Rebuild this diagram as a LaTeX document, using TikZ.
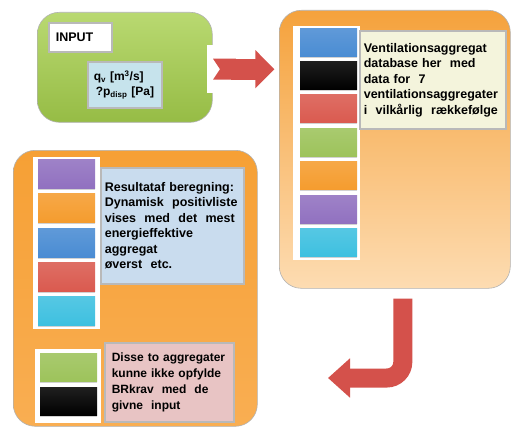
\documentclass[tikz,border=0pt]{standalone}
\usepackage{fontspec}
\setmainfont{Liberation Sans}
\usetikzlibrary{positioning,arrows.meta,shadows}

\definecolor{inputtop}{HTML}{B9D971}
\definecolor{inputbot}{HTML}{96BC45}
\definecolor{dbtop}{HTML}{F5A23C}
\definecolor{dbbot}{HTML}{FDDCB2}
\definecolor{restop}{HTML}{F6A035}
\definecolor{resbot}{HTML}{F9AE52}
\definecolor{flowblue}{HTML}{C6E3EC}
\definecolor{dbnote}{HTML}{F4F4DC}
\definecolor{resnote}{HTML}{C9DCEE}
\definecolor{rejnote}{HTML}{E8C4C4}
\definecolor{arrowred}{HTML}{D4514B}
\definecolor{aggblue}{HTML}{4A8CD3}
\definecolor{aggblack}{HTML}{000000}
\definecolor{aggred}{HTML}{DA5A4F}
\definecolor{agggreen}{HTML}{9DC35B}
\definecolor{aggorange}{HTML}{F59C2E}
\definecolor{aggpurple}{HTML}{9171C0}
\definecolor{aggcyan}{HTML}{3EC0E0}

\begin{document}
\begin{tikzpicture}[
        x=1pt, y=-1pt,
        node distance=5pt,
        every node/.style={font=\fontsize{12.5}{15.5}\selectfont\bfseries, inner sep=0pt},
        panel/.style={rounded corners=22pt, anchor=north west, draw=gray!60, line width=0.6pt},
        strip/.style={fill=white, anchor=north west},
        agg/.style={minimum width=57pt, minimum height=28pt, top color=#1!88!white, bottom color=#1,
            drop shadow={shadow xshift=0pt, shadow yshift=-1.5pt, opacity=0.35}},
        note/.style={draw=gray!55, line width=1.6pt, align=left, anchor=north west, inner xsep=4pt},
        bigarrow/.style={draw=arrowred, line width=21pt}
    ]

    % background
    \fill[white] (0,0) rectangle (512,428);
    \useasboundingbox (0,0) rectangle (512,428);

    % Panels
    \node[panel, minimum width=175pt, minimum height=110pt, top color=inputtop, bottom color=inputbot] (input) at (37,12) {};
    \node[panel, minimum width=231pt, minimum height=278pt, top color=dbtop, bottom color=dbbot] (database) at (279,10) {};
    \node[panel, minimum width=244pt, minimum height=276pt, top color=restop, bottom color=resbot] (result) at (13,150) {};

    % Input
    \node[note, fill=white, minimum height=29pt, text width=49pt, inner xsep=7pt] (inlabel) at (48,22) {INPUT};
    \node[note, fill=flowblue, minimum height=46pt, text width=62pt, inner xsep=6pt,
        font=\fontsize{12}{15}\selectfont\bfseries] (flow) at (87,61)
        {q\textsubscript{v} [m\textsuperscript{3}/s]\\ \,?p\textsubscript{disp} [Pa]};

    % Database
    \node[strip, minimum width=67pt, minimum height=234pt] (dbstrip) at (293,26) {};
    \node[agg=aggblue, anchor=north west] (db1) at (300,28) {};
    \node[agg=aggblack, below=of db1] (db2) {};
    \node[agg=aggred, below=of db2] (db3) {};
    \node[agg=agggreen, below=of db3] (db4) {};
    \node[agg=aggorange, below=of db4] (db5) {};
    \node[agg=aggpurple, below=of db5] (db6) {};
    \node[agg=aggcyan, below=of db6] (db7) {};
    \node[note, fill=dbnote, minimum height=98pt, text width=138pt] (dbtext) at (359,30)
        {Ventilationsaggregat\\ database her\ \ med\\ data for\ \ 7\\ ventilationsaggregater\\ i\ \ vilkårlig\ \ rækkefølge};

    % Result
    \node[strip, minimum width=67pt, minimum height=172pt] (resstrip) at (33,157) {};
    \node[agg=aggpurple, minimum height=29pt, anchor=north west] (res1) at (38,159) {};
    \node[agg=aggorange, minimum height=29pt, below=of res1] (res2) {};
    \node[agg=aggblue, minimum height=29pt, below=of res2] (res3) {};
    \node[agg=aggred, minimum height=29pt, below=of res3] (res4) {};
    \node[agg=aggcyan, minimum height=29pt, below=of res4] (res5) {};
    \node[note, fill=resnote, minimum height=116pt, text width=135pt] (restext) at (100,167)
        {Resultataf beregning:\\ Dynamisk\ \ positivliste\\ vises\ \ med\ \ det\ \ mest\\ energieffektive\\ aggregat\\ øverst\ \ etc.};

    % Rejected
    \node[strip, minimum width=66pt, minimum height=74pt] (rejstrip) at (35,349) {};
    \node[agg=agggreen, anchor=north west] (rej1) at (40,353) {};
    \node[agg=aggblack, below=6pt of rej1] (rej2) {};
    \node[note, fill=rejnote, minimum height=79pt, text width=115pt, inner xsep=7pt,
        font=\fontsize{12}{16}\selectfont\bfseries] (rejtext) at (104,342)
        {Disse to aggregater\\ kunne ikke opfylde\\ BRkrav\ \ med\ \ de\\ givne\ \ input};

    % Arrows
    \node[fill=white, anchor=north west, minimum width=72pt, minimum height=48pt] (gap) at (207,45) {};
    \draw[bigarrow, {Triangle Cap[reversed,length=7pt]}-{Triangle[width=37pt,length=19pt]},
        shorten <=6pt, shorten >=5pt] (gap.west) -- (gap.east);

    \coordinate (back) at (328,378);
    \draw[bigarrow, line width=19pt, -{Triangle[width=38pt,length=22pt]}, rounded corners=16pt]
        ([xshift=8pt,yshift=-10pt]database.south) |- (back);

\end{tikzpicture}
\end{document}
